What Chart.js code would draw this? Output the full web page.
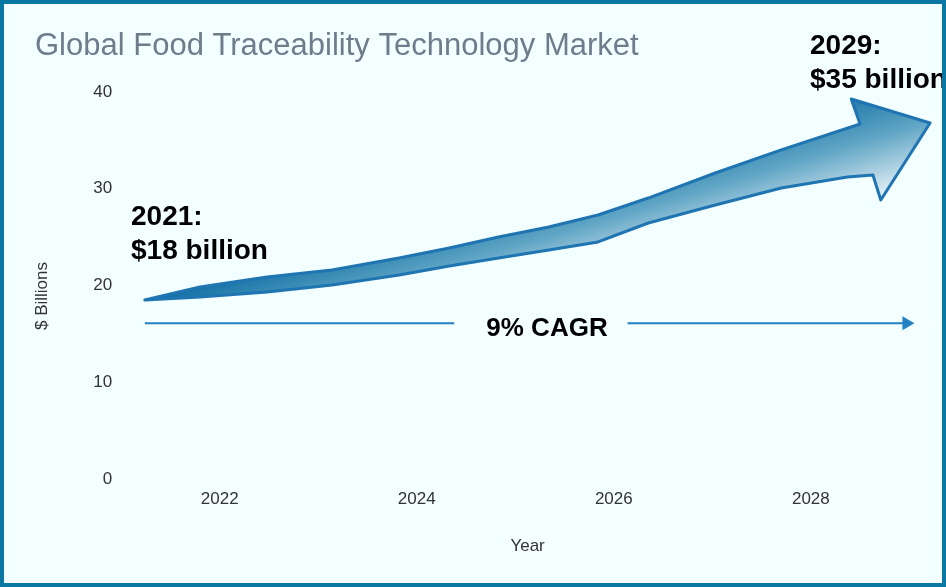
<!DOCTYPE html>
<html>
<head>
<meta charset="utf-8">
<script src="https://cdn.jsdelivr.net/npm/chart.js@4.4.1/dist/chart.umd.min.js"></script>
<style>
html, body { margin: 0; padding: 0; background: #f2feff; }
#frame { width: 946px; height: 587px; box-sizing: border-box; border: 4px solid #0b78a4; background: #f2feff; }
canvas { display: block; }
</style>
</head>
<body>
<div id="frame"><canvas id="myChart" width="938" height="579"></canvas></div>
<script>
// axis ticks
const xTicks = [2022, 2024, 2026, 2028];
const yTicks = [0, 10, 20, 30, 40];

// outline of the growth arrow: upper edge, head, lower edge back to start
const arrowYears = [2021.24, 2021.80, 2022.48, 2023.14, 2023.82, 2024.33, 2024.83, 2025.34, 2025.84, 2026.35, 2027.03, 2027.70, 2028.50,
    2028.41, 2029.21, 2028.71, 2028.63,
    2028.37, 2027.70, 2027.03, 2026.35, 2025.84, 2025.34, 2024.83, 2024.33, 2023.82, 2023.14, 2022.48, 2021.80, 2021.24];
const arrowValues = [18.5, 19.85, 20.88, 21.6, 22.84, 23.88, 25.01, 26.05, 27.29, 29.04, 31.63, 34.01, 36.69,
    39.28, 36.8, 28.84, 31.42,
    31.21, 30.08, 28.32, 26.46, 24.5, 23.67, 22.84, 22.02, 21.09, 20.05, 19.33, 18.81, 18.5];

// CAGR line (gap in the middle for the label)
const cagrYears = [2021.24, 2024.38, 2026.14, 2028.97];
const cagrValues = [16.1, 16.1, 16.1, 16.1];

const startLabel = ['2021:', '$18 billion'];
const endLabel = ['2029:', '$35 billion'];
const cagrLabel = '9% CAGR';

const FONT = '"Liberation Sans", Arial, sans-serif';

const toPoints = (xs, ys) => xs.map((x, i) => ({x: x, y: ys[i]}));

const arrowFill = {
    id: 'arrowFill',
    beforeDatasetDraw(chart, args) {
        if (args.index !== 0) return;
        const ctx = chart.ctx;
        const pts = args.meta.data;
        const p0 = pts[0];
        const g = ctx.createLinearGradient(p0.x, p0.y, p0.x + 35, p0.y + 116);
        g.addColorStop(0, '#1170a5');
        g.addColorStop(0.45, '#5ea4c4');
        g.addColorStop(1, '#f7fbfd');
        ctx.save();
        ctx.beginPath();
        pts.forEach((p, i) => i ? ctx.lineTo(p.x, p.y) : ctx.moveTo(p.x, p.y));
        ctx.closePath();
        ctx.fillStyle = g;
        ctx.fill();
        ctx.restore();
    }
};

const labels = {
    id: 'labels',
    afterDraw(chart) {
        const ctx = chart.ctx;
        ctx.save();
        // y axis title
        ctx.translate(38, 292);
        ctx.rotate(-Math.PI / 2);
        ctx.font = '17px ' + FONT;
        ctx.fillStyle = '#333';
        ctx.textAlign = 'center';
        ctx.textBaseline = 'middle';
        ctx.fillText('$ Billions', 0, 0);
        ctx.restore();

        ctx.save();
        ctx.fillStyle = '#000';
        ctx.textBaseline = 'alphabetic';
        ctx.font = 'bold 28px ' + FONT;
        ctx.fillText(startLabel[0], 127, 221);
        ctx.fillText(startLabel[1], 127, 255);
        ctx.fillText(endLabel[0], 806, 50);
        ctx.fillText(endLabel[1], 806, 84);
        ctx.font = 'bold 26px ' + FONT;
        ctx.textAlign = 'center';
        ctx.fillText(cagrLabel, 543, 332);
        ctx.restore();
    }
};

const ctx = document.getElementById('myChart').getContext('2d');
const myChart = new Chart(ctx, {
    type: 'line',
    data: {
        datasets: [{
            data: toPoints(arrowYears, arrowValues),
            borderColor: '#1f74b2',
            borderWidth: 3,
            borderJoinStyle: 'round',
            borderCapStyle: 'round',
            pointRadius: 0,
            tension: 0,
            fill: false,
            clip: false
        }, {
            data: toPoints(cagrYears, cagrValues),
            borderColor: '#2380c2',
            backgroundColor: '#2380c2',
            borderWidth: 2,
            pointStyle: 'triangle',
            pointRotation: 90,
            pointRadius: [0, 0, 0, 8],
            pointBorderWidth: 0,
            tension: 0,
            fill: false,
            segment: {
                borderColor: c => c.p0DataIndex === 1 ? 'rgba(0,0,0,0)' : undefined
            }
        }]
    },
    options: {
        responsive: false,
        animation: false,
        devicePixelRatio: 1,
        layout: { padding: { left: 31, right: 5.4, top: 0, bottom: 0 } },
        plugins: {
            legend: { display: false },
            tooltip: { enabled: false },
            title: {
                display: true,
                text: 'Global Food Traceability Technology Market',
                align: 'start',
                color: '#6f7c8c',
                font: { family: FONT, size: 31, weight: 'normal' },
                padding: { top: 24, bottom: 26.8 }
            }
        },
        scales: {
            x: {
                type: 'linear',
                min: 2021,
                max: 2029.25,
                grid: { display: false, drawTicks: false },
                border: { display: false },
                afterBuildTicks: s => { s.ticks = xTicks.map(v => ({value: v})); },
                afterFit: s => { s.height = 104; },
                ticks: {
                    padding: 10,
                    color: '#333',
                    font: { family: FONT, size: 17 },
                    callback: v => String(v)
                },
                title: {
                    display: true,
                    text: 'Year',
                    color: '#333',
                    font: { family: FONT, size: 17 },
                    padding: { top: 0, bottom: 26 }
                }
            },
            y: {
                min: 0,
                max: 40,
                grid: { display: false, drawTicks: false },
                border: { display: false },
                afterBuildTicks: s => { s.ticks = yTicks.map(v => ({value: v})); },
                afterFit: s => { s.width = 86.2; },
                ticks: {
                    padding: 9,
                    color: '#333',
                    font: { family: FONT, size: 17 }
                }
            }
        }
    },
    plugins: [arrowFill, labels]
});
</script>
</body>
</html>
